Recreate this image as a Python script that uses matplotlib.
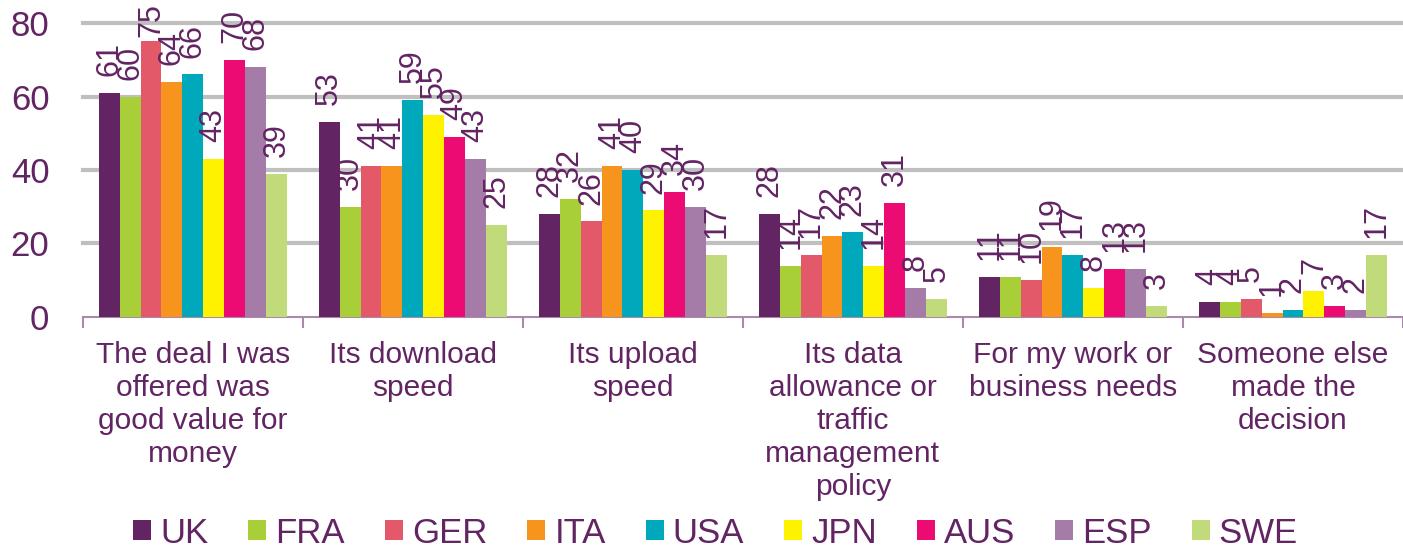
import numpy as np
import matplotlib
matplotlib.use("Agg")
import matplotlib.pyplot as plt
from matplotlib.patches import Patch

plt.rcParams["font.family"] = ["Liberation Sans", "DejaVu Sans"]

TEXT = "#622463"

categories = [
    "The deal I was\noffered was\ngood value for\nmoney",
    "Its download\nspeed",
    "Its upload\nspeed",
    "Its data\nallowance or\ntraffic\nmanagement\npolicy",
    "For my work or\nbusiness needs",
    "Someone else\nmade the\ndecision",
]
countries = ["UK", "FRA", "GER", "ITA", "USA", "JPN", "AUS", "ESP", "SWE"]
colors = ["#622463", "#A8CF38", "#E4596A", "#F7941E", "#00A8BC",
          "#FFF200", "#EC0B73", "#A57CA8", "#C2DB7A"]

uk = [61, 53, 28, 28, 11, 4]
fra = [60, 30, 32, 14, 11, 4]
ger = [75, 41, 26, 17, 10, 5]
ita = [64, 41, 41, 22, 19, 1]
usa = [66, 59, 40, 23, 17, 2]
jpn = [43, 55, 29, 14, 8, 7]
aus = [70, 49, 34, 31, 13, 3]
esp = [68, 43, 30, 8, 13, 2]
swe = [39, 25, 17, 5, 3, 17]
series = [uk, fra, ger, ita, usa, jpn, aus, esp, swe]

fig = plt.figure(figsize=(14.03, 5.49), dpi=100)
ax = fig.add_axes([0.059, 0.4226, 0.941, 0.5355])

x = np.arange(len(categories))
w = 0.095
n = len(series)
for i, (vals, col) in enumerate(zip(series, colors)):
    pos = x + (i - (n - 1) / 2) * w
    ax.bar(pos, vals, w, color=col, zorder=3)
    for p, v in zip(pos, vals):
        # labels sit above the bar, pushed down if they would leave the chart
        ax.text(p, min(v + 4.6, 76.3), str(v), rotation=90, ha="center",
                va="bottom", fontsize=22, color=TEXT, clip_on=False, zorder=4)

ax.set_xlim(-0.5, len(categories) - 0.5)
ax.set_ylim(0, 80)
ax.set_yticks([0, 20, 40, 60, 80])
ax.tick_params(axis="y", length=0, labelsize=25, labelcolor=TEXT, pad=24)
for y in [20, 40, 60, 80]:
    ax.axhline(y, color="#BFBFBF", lw=3, zorder=1, clip_on=False)

ax.set_xticks(x)
ax.set_xticklabels(categories, fontsize=21.5, color=TEXT, linespacing=1.23)
ax.tick_params(axis="x", length=0, pad=17)
ax.set_xticks(np.arange(-0.5, len(categories)), minor=True)
ax.tick_params(axis="x", which="minor", length=8, color="#A88BA8", width=1.5)

for s in ["top", "right", "left"]:
    ax.spines[s].set_visible(False)
ax.spines["bottom"].set_color("#A88BA8")
ax.spines["bottom"].set_linewidth(1.5)

handles = [Patch(facecolor=c, label=l) for c, l in zip(colors, countries)]
fig.legend(handles=handles, loc="center", bbox_to_anchor=(0.51, 0.029),
           ncol=len(countries), frameon=False, fontsize=25,
           labelcolor=TEXT, handlelength=0.52, handleheight=0.52,
           handletextpad=0.26, columnspacing=1.15, borderpad=0)

fig.savefig("out.png", dpi=100)
